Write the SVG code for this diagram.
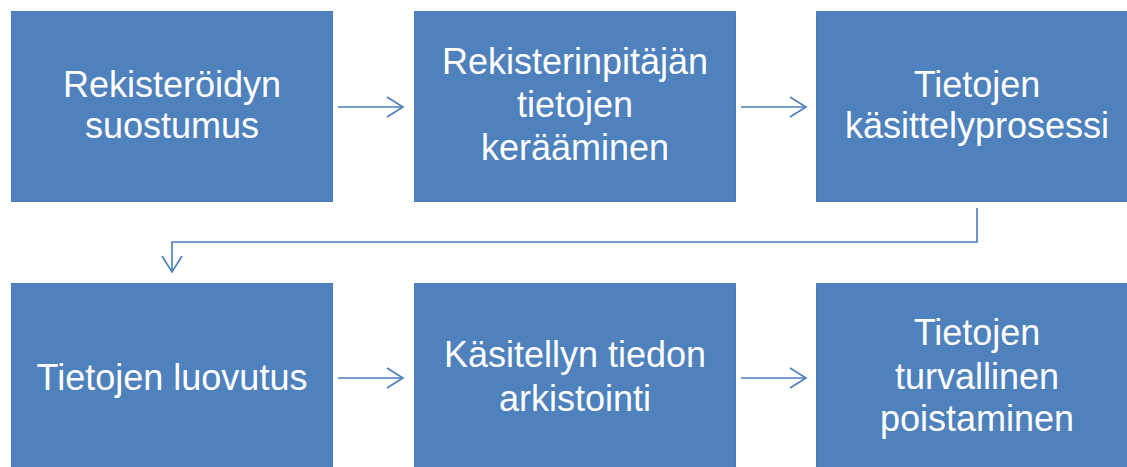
<svg xmlns="http://www.w3.org/2000/svg" width="1127" height="467" viewBox="0 0 1127 467">
<style>
.box{fill:#4F81BD;stroke:#4A7EBB;stroke-width:1}
.t{font-family:"Liberation Sans",Arial,sans-serif;font-size:36px;fill:#FFFFFF;text-anchor:middle}
.c{fill:none;stroke:#4A7EBB;stroke-width:1.6}
</style>
<defs>
<marker id="ah" markerWidth="20" markerHeight="24" refX="17" refY="11" orient="auto" markerUnits="userSpaceOnUse">
<path d="M1,1 L17,11 L1,21" fill="none" stroke="#4A7EBB" stroke-width="1.6"/>
</marker>
</defs>
<rect width="1127" height="467" fill="#FFFFFF"/>
<g id="n1"><rect class="box" x="11.5" y="11.5" width="321" height="190"/>
<text class="t" x="172" y="97">Rekisteröidyn</text><text class="t" x="172" y="138">suostumus</text></g>
<g id="n2"><rect class="box" x="414.5" y="11.5" width="321" height="190"/>
<text class="t" x="575" y="74">Rekisterinpitäjän</text><text class="t" x="575" y="117">tietojen</text><text class="t" x="575" y="160">kerääminen</text></g>
<g id="n3"><rect class="box" x="816.5" y="11.5" width="321" height="190"/>
<text class="t" x="977" y="97">Tietojen</text><text class="t" x="977" y="138">käsittelyprosessi</text></g>
<g id="n4"><rect class="box" x="11.5" y="283.5" width="321" height="190"/>
<text class="t" x="172" y="390">Tietojen luovutus</text></g>
<g id="n5"><rect class="box" x="414.5" y="283.5" width="321" height="190"/>
<text class="t" x="575" y="367">Käsitellyn tiedon</text><text class="t" x="575" y="411">arkistointi</text></g>
<g id="n6"><rect class="box" x="816.5" y="283.5" width="321" height="190"/>
<text class="t" x="977" y="345">Tietojen</text><text class="t" x="977" y="389">turvallinen</text><text class="t" x="977" y="431">poistaminen</text></g>
<g id="connectors">
<path class="c" d="M338,107 H403" marker-end="url(#ah)"/>
<path class="c" d="M741,107 H806" marker-end="url(#ah)"/>
<path class="c" d="M977,208 V242 H172 V272" marker-end="url(#ah)"/>
<path class="c" d="M338,378 H403" marker-end="url(#ah)"/>
<path class="c" d="M741,378 H806" marker-end="url(#ah)"/>
</g>
</svg>
